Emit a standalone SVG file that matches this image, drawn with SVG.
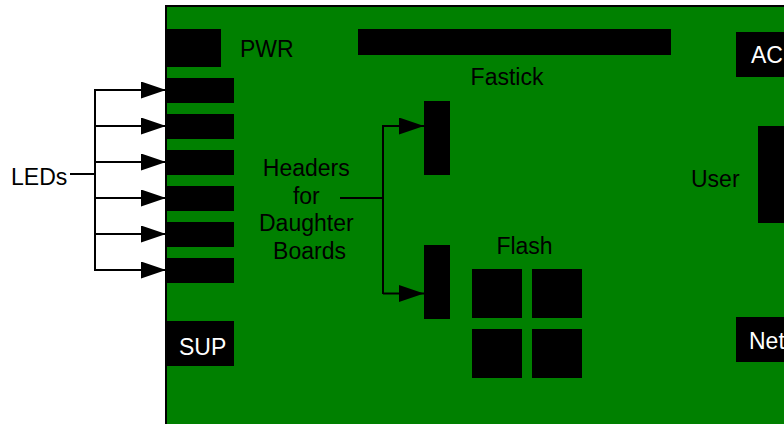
<svg xmlns="http://www.w3.org/2000/svg" width="784" height="424" viewBox="0 0 784 424">
<style>
.blk{fill:#000}
.t{font-family:"Liberation Sans",Arial,sans-serif;font-size:23px;fill:#000}
.w{fill:#fff}
.c{stroke:#000;stroke-width:2;fill:none}
</style>
<defs>
<marker id="ah" markerWidth="25" markerHeight="17" refX="25" refY="8.5" orient="auto" markerUnits="userSpaceOnUse">
<path d="M0,0 L25,8.5 L0,17 Z" fill="#000"/>
</marker>
</defs>
<rect width="784" height="424" fill="#fff"/>
<g id="board">
<rect x="166" y="6" width="640" height="440" fill="#008000" stroke="#000" stroke-width="2"/>
</g>
<g id="pwr">
<rect class="blk" x="166" y="29" width="55" height="38"/>
<text class="t" x="240" y="57">PWR</text>
</g>
<g id="leds">
<rect class="blk" x="166" y="78" width="68" height="25"/>
<rect class="blk" x="166" y="114" width="68" height="25"/>
<rect class="blk" x="166" y="150" width="68" height="25"/>
<rect class="blk" x="166" y="186" width="68" height="25"/>
<rect class="blk" x="166" y="222" width="68" height="25"/>
<rect class="blk" x="166" y="258" width="68" height="25"/>
</g>
<g id="leds-label">
<text class="t" x="11" y="185">LEDs</text>
</g>
<g id="sup">
<rect class="blk" x="166" y="321" width="68" height="45"/>
<text class="t w" x="179" y="355">SUP</text>
</g>
<g id="fastick">
<rect class="blk" x="358" y="29" width="313" height="26"/>
<text class="t" x="507" y="85" text-anchor="middle">Fastick</text>
</g>
<g id="headers-label">
<text class="t" text-anchor="middle">
<tspan x="309.5" y="176">Headers</tspan>
<tspan x="309.5" y="203.5">for</tspan>
<tspan x="309.5" y="231">Daughter</tspan>
<tspan x="309.5" y="258.5">Boards</tspan>
</text>
</g>
<g id="header1"><rect class="blk" x="424" y="101" width="26" height="74"/></g>
<g id="header2"><rect class="blk" x="424" y="245" width="26" height="74"/></g>
<g id="flash">
<text class="t" x="524.5" y="254" text-anchor="middle">Flash</text>
<rect class="blk" x="472" y="269" width="50" height="49"/>
<rect class="blk" x="532" y="269" width="50" height="49"/>
<rect class="blk" x="472" y="329" width="50" height="49"/>
<rect class="blk" x="532" y="329" width="50" height="49"/>
</g>
<g id="ac">
<rect class="blk" x="736" y="32" width="60" height="45"/>
<text class="t w" x="751" y="63">AC</text>
</g>
<g id="user">
<rect class="blk" x="758" y="126" width="40" height="97"/>
<text class="t" x="691" y="187">User</text>
</g>
<g id="net">
<rect class="blk" x="736" y="317" width="60" height="45"/>
<text class="t w" x="749" y="349">Net</text>
</g>
<g id="connectors">
<path class="c" d="M70,174 H95"/>
<path class="c" d="M95,89 V271"/>
<path class="c" d="M95,90 H166" marker-end="url(#ah)"/>
<path class="c" d="M95,126 H166" marker-end="url(#ah)"/>
<path class="c" d="M95,162 H166" marker-end="url(#ah)"/>
<path class="c" d="M95,198 H166" marker-end="url(#ah)"/>
<path class="c" d="M95,234 H166" marker-end="url(#ah)"/>
<path class="c" d="M95,270 H166" marker-end="url(#ah)"/>
<path class="c" d="M340,198 H383"/>
<path class="c" d="M383,126 H424" marker-end="url(#ah)"/>
<path class="c" d="M383,125 V294"/>
<path class="c" d="M383,293.5 H424" marker-end="url(#ah)"/>
</g>
</svg>
